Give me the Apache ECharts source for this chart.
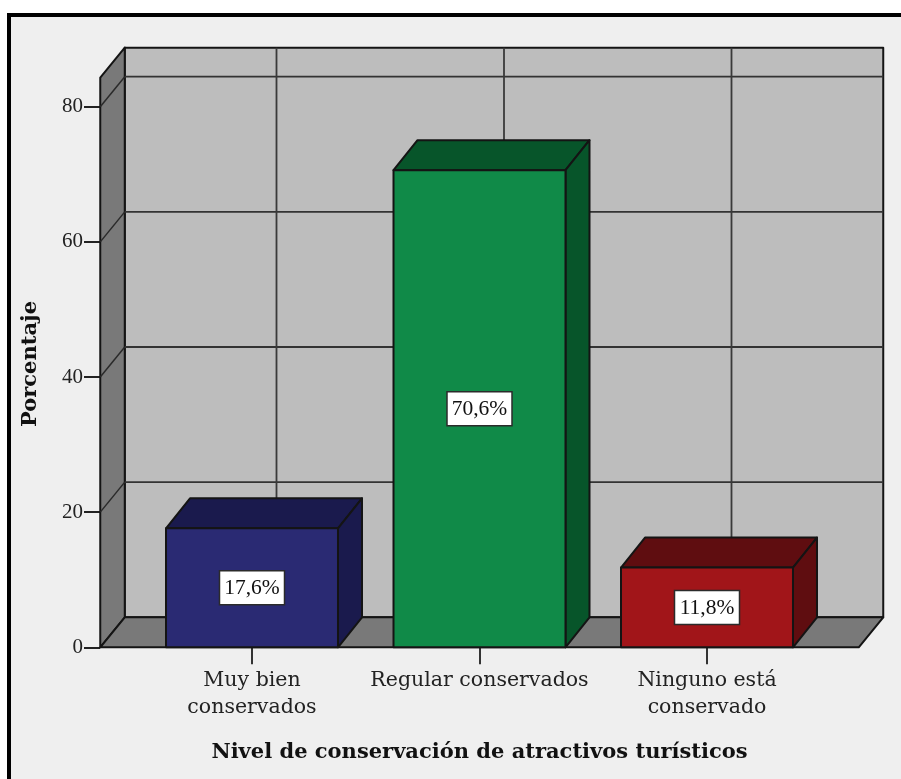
<!DOCTYPE html>
<html>
<head>
<meta charset="utf-8">
<style>
html,body{margin:0;padding:0;background:#fff;}
#chart{width:901px;height:779px;}
</style>
<script src="https://cdn.jsdelivr.net/npm/echarts@6/dist/echarts.min.js"></script>
</head>
<body>
<div id="chart"></div>
<script>
const categories = ['Muy bien\nconservados', 'Regular conservados', 'Ninguno está\nconservado'];
const values = [17.6, 70.6, 11.8];
const valueLabels = ['17,6%', '70,6%', '11,8%'];
const yTicks = [0, 20, 40, 60, 80];
const wallTopValue = 84.3;
const frontColors = ['#2a2a73', '#108a48', '#a11519'];
const topColors = ['#1a1a4d', '#07552a', '#5f0d10'];
const sideColors = ['#1a1a4d', '#07552a', '#5f0d10'];

const DX = 24.5, DY = -30, BAR_DX = 24;
const EDGE = '#141414';
const FONT = '"Liberation Serif", serif';
const WIDE = '"DejaVu Serif", serif';

function poly(points, fill, stroke, lw) {
  return { type: 'polygon', shape: { points }, style: { fill, stroke: stroke || EDGE, lineWidth: lw || 2, lineJoin: 'round' } };
}
function seg(a, b, color, lw) {
  return { type: 'line', shape: { x1: a[0], y1: a[1], x2: b[0], y2: b[1] }, style: { stroke: color, lineWidth: lw, fill: null } };
}

function renderWalls(params, api) {
  const band = api.size([1, 0])[0];
  const c0 = api.coord([0, 0]);
  const c2 = api.coord([2, 0]);
  const yTop = api.coord([0, wallTopValue])[1];
  const yBase = c0[1];
  const xL = c0[0] - band * 0.667;
  const xR = c2[0] + band * 0.667;
  const kids = [];
  kids.push(poly([[xL + DX, yTop + DY], [xR + DX, yTop + DY], [xR + DX, yBase + DY], [xL + DX, yBase + DY]], '#bdbdbd', EDGE, 2));
  kids.push(poly([[xL, yTop], [xL + DX, yTop + DY], [xL + DX, yBase + DY], [xL, yBase]], '#797979', EDGE, 2));
  kids.push(poly([[xL, yBase], [xL + DX, yBase + DY], [xR + DX, yBase + DY], [xR, yBase]], '#797979', EDGE, 2));
  yTicks.slice(1).forEach(function (t) {
    const y = api.coord([0, t])[1];
    kids.push(seg([xL, y], [xL + DX, y + DY], '#2a2a2a', 1.5));
    kids.push(seg([xL + DX, y + DY], [xR + DX, y + DY], '#333333', 1.8));
  });
  categories.forEach(function (_, i) {
    const x = api.coord([i, 0])[0] + DX;
    kids.push(seg([x, yTop + DY], [x, yBase + DY], '#3a3a3a', 1.8));
  });
  return { type: 'group', children: kids };
}

function renderBar(params, api) {
  const i = api.value(0);
  const v = api.value(1);
  const band = api.size([1, 0])[0];
  const hw = band * 0.378;
  const base = api.coord([i, 0]);
  const top = api.coord([i, v]);
  const l = base[0] - hw, r = base[0] + hw, t = top[1], b = base[1];
  const cy = (t + b) / 2;
  const cx = base[0];
  return {
    type: 'group',
    children: [
      poly([[l, t], [l + BAR_DX, t + DY], [r + BAR_DX, t + DY], [r, t]], topColors[i]),
      poly([[r, t], [r + BAR_DX, t + DY], [r + BAR_DX, b + DY], [r, b]], sideColors[i]),
      poly([[l, t], [r, t], [r, b], [l, b]], frontColors[i]),
      { type: 'rect', shape: { x: cx - 32.5, y: cy - 17, width: 65, height: 34 }, style: { fill: '#ffffff', stroke: '#2b2b2b', lineWidth: 1.5 } },
      { type: 'text', style: { text: valueLabels[i], x: cx, y: cy + 1, align: 'center', verticalAlign: 'middle', font: '21.5px ' + FONT, fill: '#111111' } }
    ]
  };
}

const chart = echarts.init(document.getElementById('chart'), null, { renderer: 'canvas' });
chart.setOption({
  animation: false,
  backgroundColor: '#ffffff',
  graphic: [
    { type: 'rect', z: -10, shape: { x: 9, y: 15, width: 892, height: 764 }, style: { fill: '#efefef' } },
    { type: 'line', z: -9, shape: { x1: 9, y1: 15, x2: 901, y2: 15 }, style: { stroke: '#000', lineWidth: 4 } },
    { type: 'line', z: -9, shape: { x1: 9, y1: 13, x2: 9, y2: 779 }, style: { stroke: '#000', lineWidth: 4 } }
  ],
  grid: { left: 138.25, width: 682.5, top: 106.7, height: 540.6 },
  xAxis: {
    type: 'category',
    data: categories,
    name: 'Nivel de conservación de atractivos turísticos',
    nameLocation: 'middle',
    nameGap: 95,
    nameTextStyle: { fontFamily: WIDE, fontWeight: 'bold', fontSize: 21, color: '#111' },
    axisLine: { show: false },
    axisTick: { show: true, alignWithLabel: true, length: 17, lineStyle: { color: '#333', width: 2 } },
    axisLabel: { interval: 0, fontFamily: WIDE, fontSize: 20.5, lineHeight: 27, color: '#222', margin: 20 }
  },
  yAxis: {
    type: 'value',
    min: 0,
    max: 80,
    interval: 20,
    offset: 38.25,
    name: 'Porcentaje',
    nameLocation: 'middle',
    nameGap: 59,
    nameTextStyle: { fontFamily: WIDE, fontWeight: 'bold', fontSize: 21, color: '#111', padding: [0, 0, 0, 26] },
    splitLine: { show: false },
    axisLine: { show: false },
    axisTick: { show: true, length: 16, lineStyle: { color: '#222', width: 2 } },
    axisLabel: { fontFamily: FONT, fontSize: 21, color: '#222', margin: 17 }
  },
  series: [
    { type: 'custom', name: 'walls', z: 1, silent: true, clip: false, data: [[0, 0]], renderItem: renderWalls },
    {
      type: 'custom', name: 'Porcentaje', z: 2, silent: true, clip: false,
      encode: { x: 0, y: 1 },
      data: values.map(function (v, i) { return [i, v]; }),
      renderItem: renderBar
    }
  ]
});
</script>
</body>
</html>
